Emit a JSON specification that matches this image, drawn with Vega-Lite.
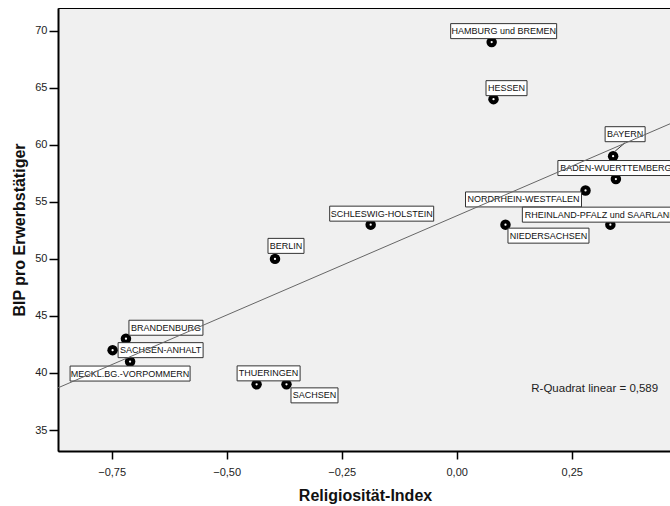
{
  "$schema": "https://vega.github.io/schema/vega-lite/v6.json",
  "width": 614,
  "height": 443,
  "autosize": {"type": "none"},
  "padding": {"left": 58, "top": 8, "right": 0, "bottom": 55},
  "background": "white",
  "params": [
    {"name": "labelDx", "value": {"HAMBURG und BREMEN": 12, "HESSEN": 13, "BAYERN": 12, "BADEN-WUERTTEMBERG": 0, "NORDRHEIN-WESTFALEN": -62, "RHEINLAND-PFALZ und SAARLAND": -10, "NIEDERSACHSEN": 43, "SCHLESWIG-HOLSTEIN": 11, "BERLIN": 11, "BRANDENBURG": 40, "SACHSEN-ANHALT": 48, "MECKL.BG.-VORPOMMERN": 0, "THUERINGEN": 12, "SACHSEN": 28}},
    {"name": "labelDy", "value": {"HAMBURG und BREMEN": -11, "HESSEN": -11, "BAYERN": -22, "BADEN-WUERTTEMBERG": -11, "NORDRHEIN-WESTFALEN": 9, "RHEINLAND-PFALZ und SAARLAND": -10, "NIEDERSACHSEN": 11, "SCHLESWIG-HOLSTEIN": -11, "BERLIN": -13, "BRANDENBURG": -11, "SACHSEN-ANHALT": 0, "MECKL.BG.-VORPOMMERN": 12, "THUERINGEN": -11, "SACHSEN": 11}},
    {"name": "labelW", "value": {"HAMBURG und BREMEN": 106, "HESSEN": 41, "BAYERN": 40, "BADEN-WUERTTEMBERG": 116, "NORDRHEIN-WESTFALEN": 116, "RHEINLAND-PFALZ und SAARLAND": 156, "NIEDERSACHSEN": 81, "SCHLESWIG-HOLSTEIN": 104, "BERLIN": 36, "BRANDENBURG": 74, "SACHSEN-ANHALT": 85, "MECKL.BG.-VORPOMMERN": 120, "THUERINGEN": 63, "SACHSEN": 47}},
    {"name": "labelLeader", "value": {"BAYERN": "M2,-5L12,-13.5"}}
  ],
  "data": {
    "values": [
      {"state": "HAMBURG und BREMEN", "x": 0.076, "y": 69},
      {"state": "HESSEN", "x": 0.080, "y": 64},
      {"state": "BAYERN", "x": 0.340, "y": 59},
      {"state": "BADEN-WUERTTEMBERG", "x": 0.346, "y": 57},
      {"state": "NORDRHEIN-WESTFALEN", "x": 0.280, "y": 56},
      {"state": "RHEINLAND-PFALZ und SAARLAND", "x": 0.334, "y": 53},
      {"state": "NIEDERSACHSEN", "x": 0.106, "y": 53},
      {"state": "SCHLESWIG-HOLSTEIN", "x": -0.187, "y": 53},
      {"state": "BERLIN", "x": -0.395, "y": 50},
      {"state": "BRANDENBURG", "x": -0.719, "y": 43},
      {"state": "SACHSEN-ANHALT", "x": -0.748, "y": 42},
      {"state": "MECKL.BG.-VORPOMMERN", "x": -0.710, "y": 41},
      {"state": "THUERINGEN", "x": -0.435, "y": 39},
      {"state": "SACHSEN", "x": -0.370, "y": 39}
    ]
  },
  "config": {
    "font": "Liberation Sans",
    "view": {"fill": "#F0F0F0", "stroke": "#000000", "strokeWidth": 1},
    "axis": {
      "grid": false,
      "domainColor": "#000000",
      "domainWidth": 2,
      "tickColor": "#000000",
      "tickWidth": 1.5,
      "labelColor": "#222222",
      "labelFont": "Liberation Sans",
      "labelFontSize": 11,
      "titleFont": "Liberation Sans",
      "titleFontSize": 16,
      "titleFontWeight": "bold",
      "titleColor": "#111111"
    }
  },
  "encoding": {
    "x": {
      "field": "x",
      "type": "quantitative",
      "scale": {"domain": [-0.8667, 0.468], "nice": false, "zero": false},
      "axis": {
        "title": "Religiosität-Index",
        "values": [-0.75, -0.5, -0.25, 0, 0.25],
        "labelExpr": "replace(format(datum.value, '.2f'), '.', ',')",
        "tickSize": 8,
        "labelPadding": 7,
        "titlePadding": 10
      }
    },
    "y": {
      "field": "y",
      "type": "quantitative",
      "scale": {"domain": [33.16, 71.99], "nice": false, "zero": false},
      "axis": {
        "title": "BIP pro Erwerbstätiger",
        "values": [35, 40, 45, 50, 55, 60, 65, 70],
        "format": "d",
        "tickSize": 9,
        "labelPadding": 2,
        "titlePadding": 7
      }
    }
  },
  "layer": [
    {
      "mark": {"type": "circle", "size": 110, "color": "#000000", "opacity": 1}
    },
    {
      "mark": {"type": "circle", "size": 5, "color": "#FFFFFF", "opacity": 1}
    },
    {
      "mark": {
        "type": "point",
        "size": 4,
        "filled": true,
        "fill": "#FFFFFF",
        "fillOpacity": 1,
        "stroke": "#333333",
        "strokeWidth": 1,
        "opacity": 1,
        "shape": {"expr": "'M' + (labelDx[datum.state] - labelW[datum.state] / 2) + ',' + (labelDy[datum.state] - 7.5) + 'h' + labelW[datum.state] + 'v15h' + (-labelW[datum.state]) + 'z' + (labelLeader[datum.state] || '')"}
      }
    },
    {
      "mark": {
        "type": "text",
        "font": "Liberation Sans",
        "fontSize": 9,
        "color": "#111111",
        "align": "center",
        "baseline": "middle",
        "dx": {"expr": "labelDx[datum.state]"},
        "dy": {"expr": "labelDy[datum.state]"}
      },
      "encoding": {"text": {"field": "state"}}
    },
    {
      "transform": [{"regression": "y", "on": "x", "extent": [-0.8667, 0.468]}],
      "mark": {"type": "line", "color": "#666666", "strokeWidth": 1, "clip": true}
    },
    {
      "transform": [{"filter": "datum.state === 'SACHSEN'"}],
      "mark": {"type": "text", "font": "Liberation Sans", "fontSize": 11.5, "color": "#222222", "align": "center", "baseline": "middle"},
      "encoding": {
        "x": {"datum": 0.30, "type": "quantitative"},
        "y": {"datum": 38.6, "type": "quantitative"},
        "text": {"value": "R-Quadrat linear = 0,589"}
      }
    }
  ]
}
